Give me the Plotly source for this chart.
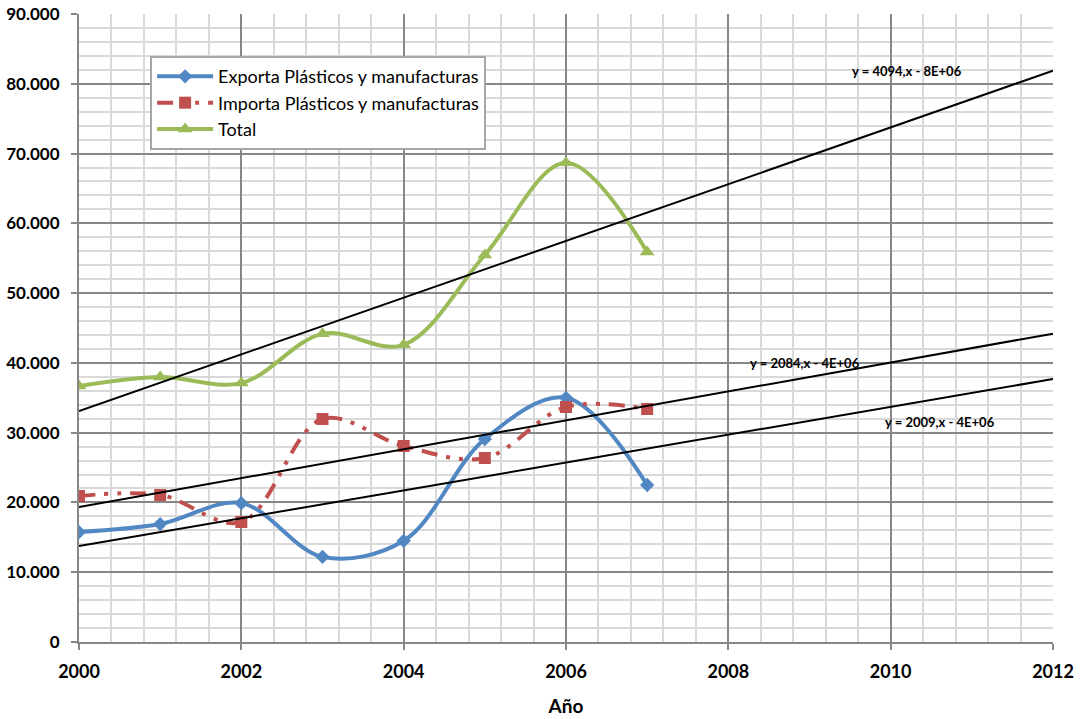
import numpy as np
import plotly.graph_objects as go

# Annual values (tonnes) for plastics and manufactures
years = [2000, 2001, 2002, 2003, 2004, 2005, 2006, 2007]
exporta = [15760, 16900, 19900, 12200, 14500, 29090, 35000, 22500]
importa = [20920, 21070, 17200, 31960, 28090, 26370, 33680, 33390]
total = [e + i for e, i in zip(exporta, importa)]

trend_x = [2000, 2012]
trend_labels = ["y = 4094,x - 8E+06", "y = 2084,x - 4E+06", "y = 2009,x - 4E+06"]

FONT = "Lato"
BLUE = "#5187C3"
RED = "#C0504D"
GREEN = "#9BBB59"

fig = go.Figure()

fig.add_trace(go.Scatter(
    x=years, y=exporta, name="Exporta Plásticos y manufacturas",
    mode="lines+markers", line=dict(color=BLUE, width=4, shape="spline", smoothing=1.0),
    marker=dict(symbol="diamond", size=11, color=BLUE),
))
fig.add_trace(go.Scatter(
    x=years, y=importa, name="Importa Plásticos y manufacturas",
    mode="lines+markers",
    line=dict(color=RED, width=4, shape="spline", smoothing=1.0, dash="16px,9px,4px,9px,4px,9px"),
    marker=dict(symbol="square", size=12, color=RED),
))
fig.add_trace(go.Scatter(
    x=years, y=total, name="Total",
    mode="lines+markers", line=dict(color=GREEN, width=4, shape="spline", smoothing=1.0),
    marker=dict(symbol="triangle-up", size=13, color=GREEN),
))

# Linear trendlines, extended to 2012
for series in (total, importa, exporta):
    slope, intercept = np.polyfit(years, series, 1)
    fig.add_trace(go.Scatter(
        x=trend_x, y=[slope * x + intercept for x in trend_x],
        mode="lines", line=dict(color="black", width=2), showlegend=False, hoverinfo="skip",
    ))

label_pos = [(2010.2, 81800), (2008.94, 39980), (2010.61, 31530)]
for text, (lx, ly) in zip(trend_labels, label_pos):
    fig.add_annotation(x=lx, y=ly, text=text, showarrow=False,
                       font=dict(family=FONT, size=13, color="black", weight="bold"))

MAJOR = "#878787"
MINOR = "#D9D9D9"

fig.update_layout(
    width=1080, height=719,
    margin=dict(l=79, r=27, t=14, b=77),
    paper_bgcolor="white", plot_bgcolor="white",
    separators=",.",
    font=dict(family=FONT, color="black"),
    legend=dict(
        x=0.073, y=0.933, xanchor="left", yanchor="top",
        bgcolor="white", bordercolor="#A6A6A6", borderwidth=2,
        font=dict(family=FONT, size=18, color="black"),
        tracegroupgap=0, itemwidth=56,
    ),
    xaxis=dict(
        range=[2000, 2012], dtick=2, tick0=2000, automargin=False,
        showgrid=True, gridcolor=MAJOR, gridwidth=2,
        minor=dict(dtick=0.4, showgrid=True, gridcolor=MINOR, gridwidth=2),
        showline=True, linecolor=MAJOR, linewidth=2,
        ticks="outside", ticklen=6, tickcolor=MAJOR, tickwidth=2,
        ticklabelstandoff=6,
        tickfont=dict(family=FONT, size=18, color="black", weight="bold"),
        title=dict(text="Año", font=dict(family=FONT, size=19, color="black", weight="bold"), standoff=19),
        zeroline=False, mirror=False,
    ),
    yaxis=dict(
        range=[0, 90000], dtick=10000, tickformat=",.0f", automargin=False,
        showgrid=True, gridcolor=MAJOR, gridwidth=2,
        minor=dict(dtick=2000, showgrid=True, gridcolor=MINOR, gridwidth=2),
        showline=True, linecolor=MAJOR, linewidth=2,
        ticks="outside", ticklen=6, tickcolor=MAJOR, tickwidth=2,
        ticklabelstandoff=8,
        tickfont=dict(family=FONT, size=17, color="black", weight="bold"),
        zeroline=False,
    ),
)

fig.write_html("out.html")
